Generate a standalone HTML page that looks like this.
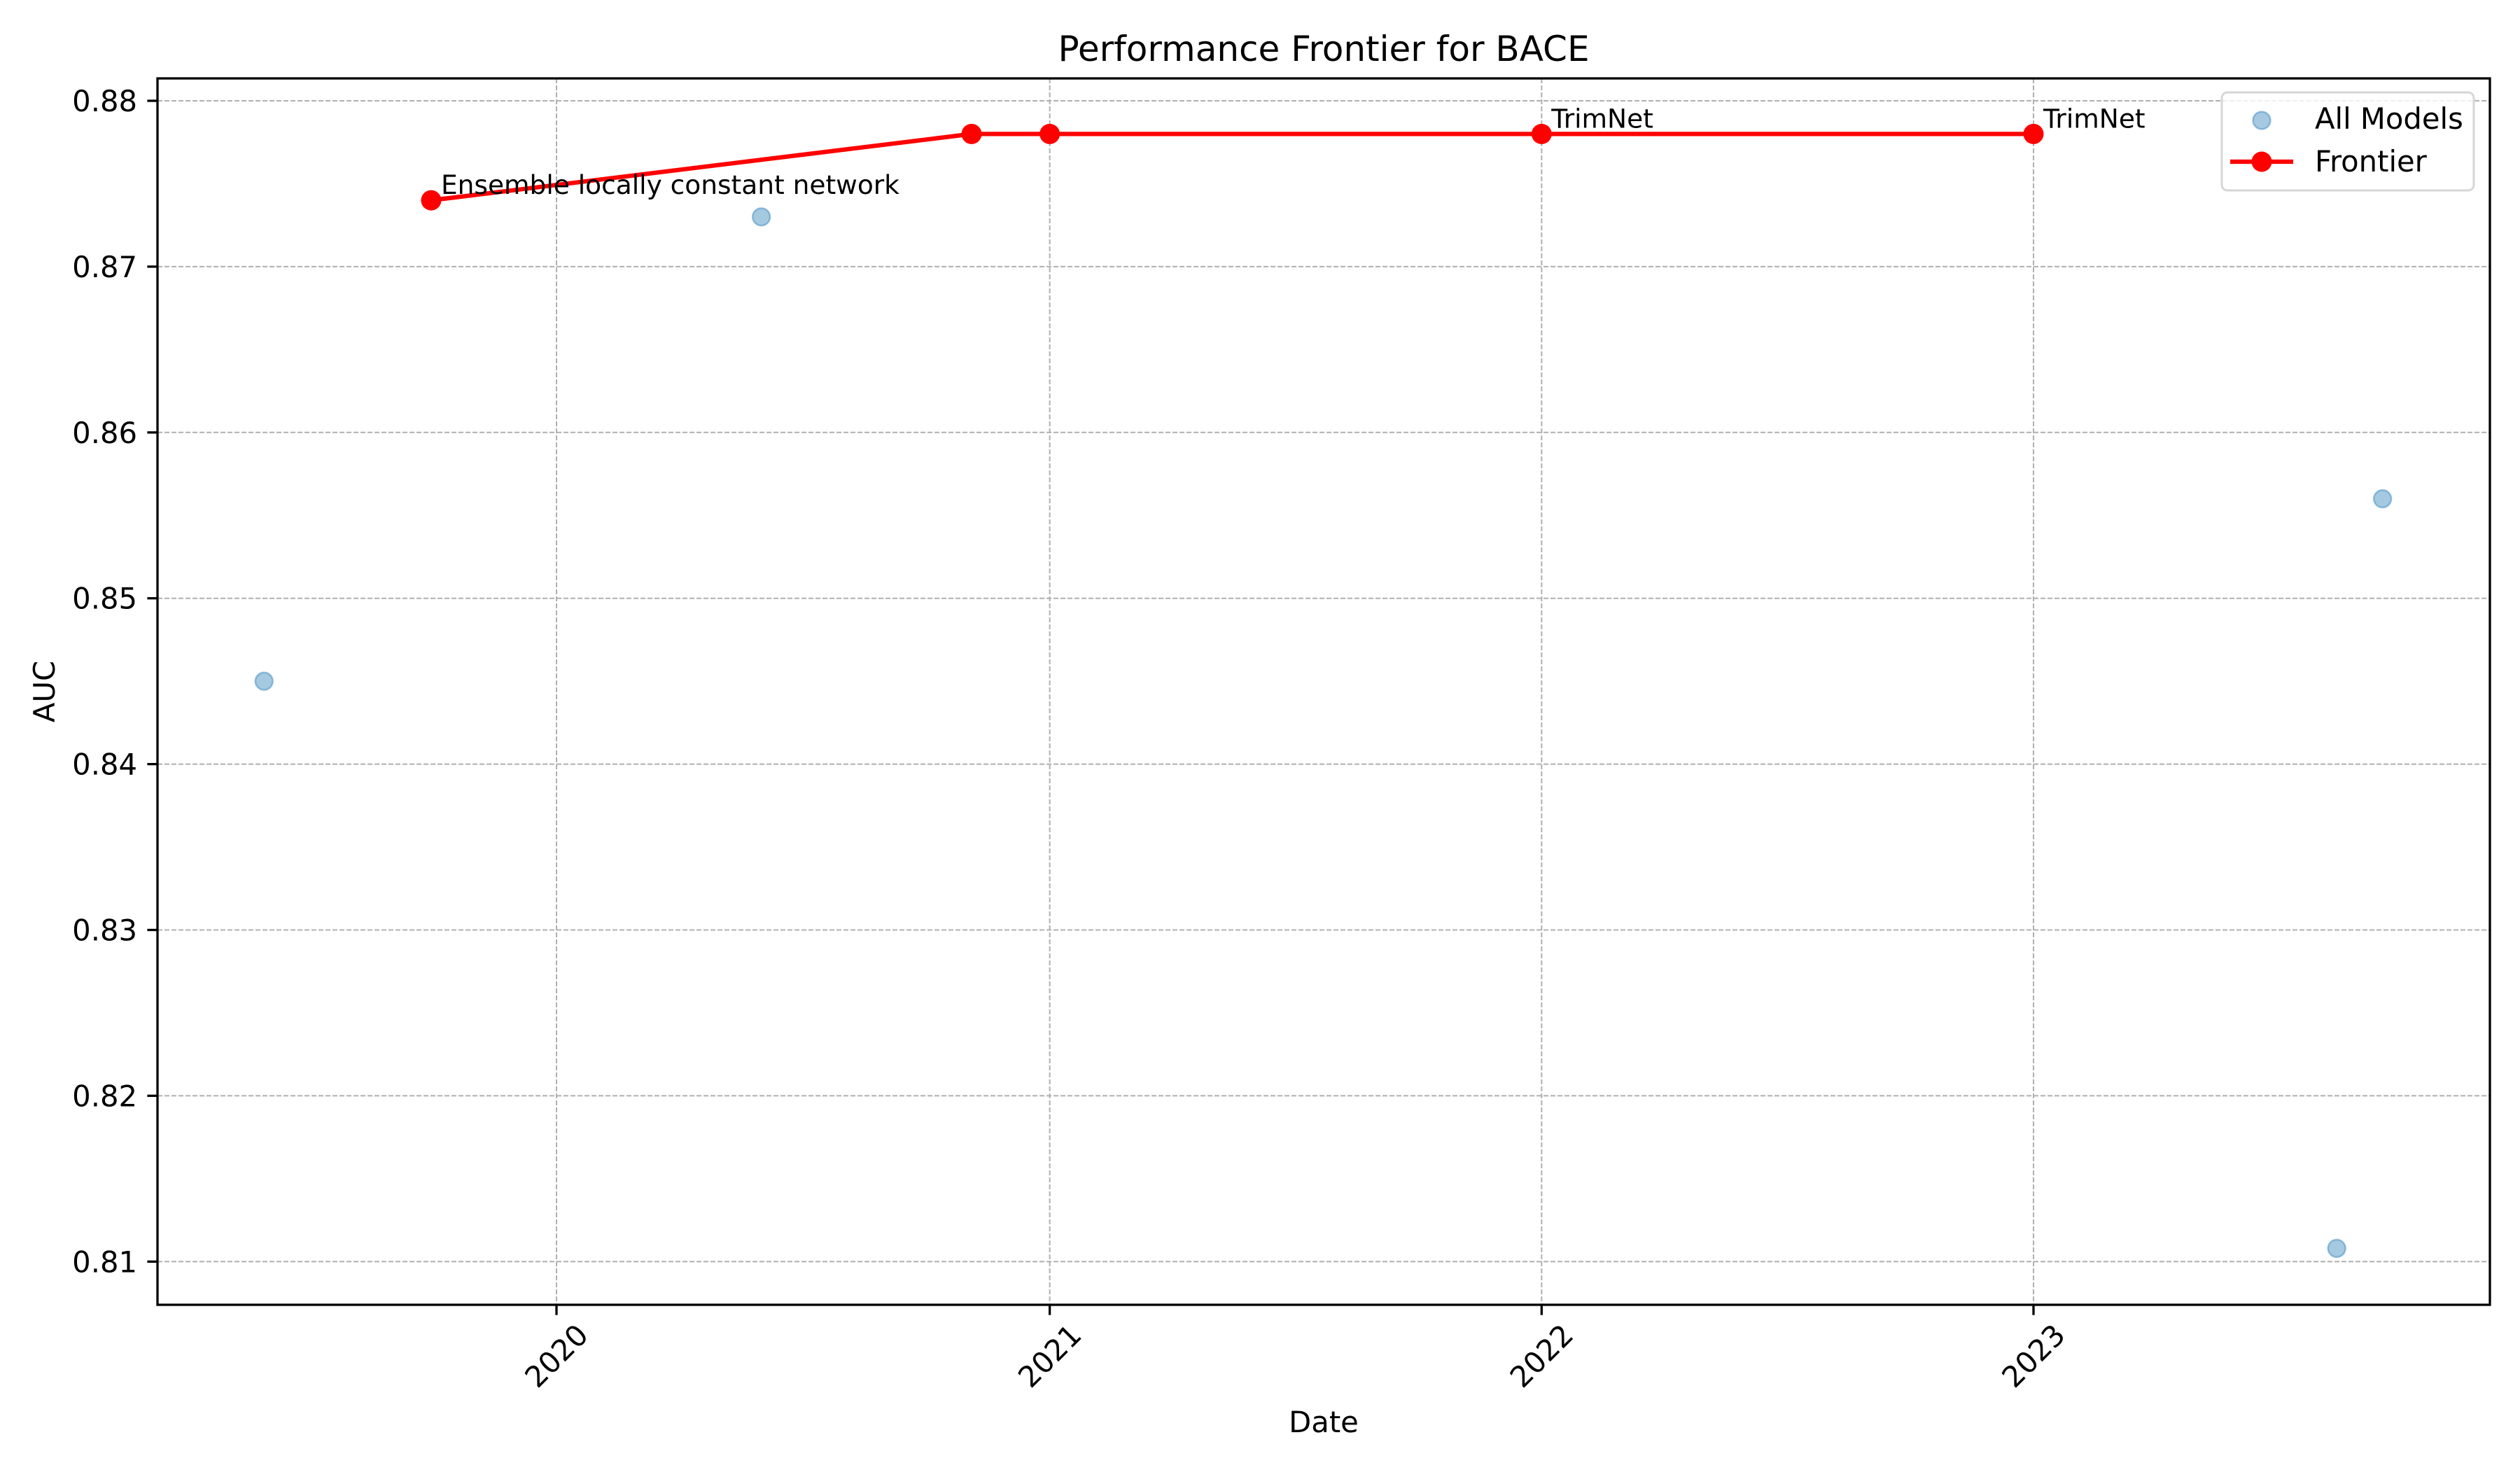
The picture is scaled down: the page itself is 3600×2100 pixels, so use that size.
<!DOCTYPE html>
<html><head><meta charset="utf-8"><style>
html,body{margin:0;padding:0;background:#fff;}
svg{display:block;font-family:"DejaVu Sans","Liberation Sans",sans-serif;}
</style></head><body>
<svg id="chart" width="3600" height="2100" viewBox="0 0 3600 2100" xmlns="http://www.w3.org/2000/svg">
<rect width="3600" height="2100" fill="#fff"/>
<g id="grid"></g>
<g id="axes"></g>
<g id="marks"></g>
<text x="1891" y="87" font-size="50" text-anchor="middle">Performance Frontier for BACE</text>
<text x="1891" y="2046" font-size="41.7" text-anchor="middle">Date</text>
<text x="0" y="0" font-size="41.7" text-anchor="middle" transform="translate(78,988) rotate(-90)">AUC</text>
<g>
<rect x="3174" y="132" width="360" height="140" rx="8" fill="#fff" fill-opacity="0.8" stroke="#d6d6d6" stroke-width="3"/>
<circle cx="3231" cy="172" r="12.5" fill="#1f77b4" fill-opacity="0.4" stroke="#1f77b4" stroke-opacity="0.4" stroke-width="2.5"/>
<text x="3307" y="184" font-size="41.7">All Models</text>
<line x1="3186" y1="231" x2="3276" y2="231" stroke="#ff0000" stroke-width="6.25"/>
<circle cx="3231" cy="231" r="14.5" fill="#ff0000"/>
<text x="3307" y="245" font-size="41.7">Frontier</text>
</g>
</svg>
<script>
const allDates = ["2019-05-29","2019-09-30","2020-06-01","2020-11-04","2021-01-01","2022-01-01","2023-01-01","2023-08-14","2023-09-17"];
const allAuc = [0.845,0.874,0.873,0.878,0.878,0.878,0.878,0.8108,0.856];
const frontierDates = ["2019-09-30","2020-11-04","2021-01-01","2022-01-01","2023-01-01"];
const frontierAuc = [0.874,0.878,0.878,0.878,0.878];
const annoIndex = [0,3,4];
const annoLabels = ["Ensemble locally constant network","TrimNet","TrimNet"];
const yTicks = [0.81,0.82,0.83,0.84,0.85,0.86,0.87,0.88];
const xTickYears = [2020,2021,2022,2023];

const NS="http://www.w3.org/2000/svg";
const L=225,R=3557,T=112,B=1864;
const d0=Date.UTC(2020,0,1), d1=Date.UTC(2023,0,1);
function xs(s){const t=typeof s==="number"?s:Date.parse(s+"T00:00:00Z");return 795+(t-d0)/(d1-d0)*(2905-795);}
function ys(v){return 144+(0.88-v)/0.01*236.9;}
function mk(tag,attrs,parent){const e=document.createElementNS(NS,tag);for(const k in attrs)e.setAttribute(k,attrs[k]);parent.appendChild(e);return e;}
const grid=document.getElementById('grid'),axes=document.getElementById('axes'),marks=document.getElementById('marks');

yTicks.forEach(v=>{const y=ys(v);
 const g=mk('line',{x1:L,x2:R,y1:y,y2:y,stroke:'#b0b0b0','stroke-width':2,'stroke-dasharray':'7,3'},grid);
 
 
 const t=mk('line',{x1:L-14.6,x2:L,y1:y,y2:y,stroke:'#000','stroke-width':3.3},axes);
 
 
 const tx=mk('text',{x:L-29,y:y+15,'font-size':41.7,'text-anchor':'end'},axes);
 tx.textContent=v.toFixed(2);
 
 
});
xTickYears.forEach(yr=>{const x=xs(Date.UTC(yr,0,1));
 const g=mk('line',{x1:x,x2:x,y1:T,y2:B,stroke:'#b0b0b0','stroke-width':2,'stroke-dasharray':'7,3'},grid);
 
 
 const t=mk('line',{x1:x,x2:x,y1:B,y2:B+14.6,stroke:'#000','stroke-width':3.3},axes);
 
 
 const tx=mk('text',{x:0,y:0,'font-size':41.7,'text-anchor':'middle','dominant-baseline':'central',transform:`translate(${x},1937) rotate(-45)`},axes);
 tx.textContent=String(yr);
 
 
});
const frame=mk('rect',{x:L,y:T,width:R-L,height:B-T,fill:'none',stroke:'#000','stroke-width':3.3},axes);



allDates.forEach((d,i)=>{
 const c=mk('circle',{cx:xs(d),cy:ys(allAuc[i]),r:12.5,fill:'#1f77b4','fill-opacity':0.4,stroke:'#1f77b4','stroke-opacity':0.4,'stroke-width':2.5},marks);
 
 
});
const pts=frontierDates.map((d,i)=>xs(d)+','+ys(frontierAuc[i])).join(' ');
const pl=mk('polyline',{points:pts,fill:'none',stroke:'#ff0000','stroke-width':6.25,'stroke-linejoin':'round'},marks);


frontierDates.forEach((d,i)=>{
 const c=mk('circle',{cx:xs(d),cy:ys(frontierAuc[i]),r:14.5,fill:'#ff0000'},marks);
 
 
});
annoIndex.forEach((k,j)=>{
 const t=mk('text',{x:xs(frontierDates[k])+14,y:ys(frontierAuc[k])-9,'font-size':37.5},marks);
 t.textContent=annoLabels[j];
 
 
});
</script>
</body></html>
